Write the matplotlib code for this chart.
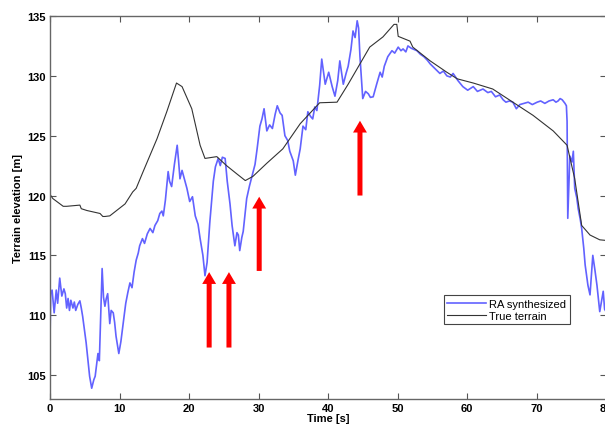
import numpy as np
import matplotlib.pyplot as plt

plt.rcParams['font.family'] = ['Liberation Sans', 'DejaVu Sans']

# true terrain (black)
true_t = [0, 0.4, 1.9, 2.4, 4.3, 4.5, 5.3, 7.2, 7.6, 7.9, 8.6, 10.8, 11.9, 12.4,
          13.4, 15.4, 16.8, 18.2, 19.0, 20.4, 21.6, 22.3, 24.0, 25.4, 26.9, 28.1,
          29.2, 31.2, 33.5, 36.0, 38.4, 38.8, 41.3, 42.9, 44.6, 46.0, 47.9, 49.5,
          49.9, 50.1, 51.8, 52.2, 54.7, 57.1, 58.6, 60.9, 63.7, 66.6, 69.5, 72.4,
          74.4, 75.5, 76.5, 77.7, 79.1, 80]
true_z = [120.1, 119.75, 119.1, 119.1, 119.2, 118.9, 118.75, 118.5, 118.25, 118.25,
          118.3, 119.3, 120.3, 120.6, 122.0, 124.75, 127.0, 129.4, 129.1, 127.25,
          124.2, 123.1, 123.25, 122.5, 121.8, 121.25, 121.6, 122.7, 123.9, 126.0,
          127.5, 127.75, 127.8, 129.3, 131.0, 132.4, 133.25, 134.3, 134.3, 133.3,
          132.9, 132.4, 131.25, 130.3, 129.75, 129.4, 128.9, 127.8, 126.7, 125.4,
          124.2, 121.4, 117.5, 116.7, 116.3, 116.25]

# RA synthesized (blue)
ra_t = [0, 0.1, 0.3, 0.6, 0.9, 1.1, 1.4, 1.7, 2.0, 2.2, 2.4, 2.6, 2.8, 3.0, 3.3,
        3.5, 3.7, 4.0, 4.3, 4.5, 4.7, 5.2, 5.7, 6.0, 6.3, 6.5, 6.9, 7.1, 7.3,
        7.5, 7.7, 7.9, 8.1, 8.3, 8.6, 8.8, 9.1, 9.3, 9.5, 9.9, 10.2, 10.4, 10.7,
        10.9, 11.2, 11.5, 11.8, 12.1, 12.4, 12.7, 12.9, 13.3, 13.6, 14.0, 14.4,
        14.8, 15.1, 15.5, 15.8, 16.1, 16.3, 16.6, 17.0, 17.2, 17.5, 17.9, 18.3,
        18.5, 18.7, 19.0, 19.4, 19.7, 20.1, 20.5, 20.9, 21.3, 21.6, 22.0, 22.3,
        22.6, 23.0, 23.5, 23.8, 24.2, 24.5, 24.8, 25.2, 25.5, 25.9, 26.2, 26.6,
        26.9, 27.1, 27.3, 27.6, 27.8, 28.3, 28.7, 29.1, 29.5, 29.8, 30.2, 30.5,
        30.8, 31.2, 31.6, 32.0, 32.4, 32.7, 33.1, 33.4, 33.8, 34.2, 34.5, 35.0,
        35.3, 35.7, 36.0, 36.4, 36.8, 37.1, 37.5, 37.8, 38.1, 38.4, 38.8, 39.1,
        39.6, 40.1, 40.6, 41.0, 41.4, 41.7, 42.2, 42.6, 42.9, 43.3, 43.6, 43.9,
        44.2, 44.4, 44.6, 45.0, 45.4, 45.8, 46.1, 46.5, 47.0, 47.5, 47.8, 48.1,
        48.6, 49.2, 49.6, 50.1, 50.5, 50.8, 51.2, 51.5, 52.0, 52.8, 53.3, 53.8,
        54.3, 54.7, 55.4, 56.1, 56.6, 57.1, 57.6, 58.0, 58.7, 59.4, 60.1, 60.9,
        61.5, 62.3, 63.0, 63.5, 64.1, 64.7, 65.2, 65.6, 66.1, 66.6, 67.1, 67.6,
        68.2, 68.8, 69.4, 70.1, 70.6, 71.2, 71.8, 72.4, 72.8, 73.1, 73.4, 73.7,
        74.1, 74.3, 74.4, 74.5, 74.8, 75.1, 75.3, 75.5, 75.8, 76.0, 76.3, 76.5,
        76.8, 77.0, 77.4, 77.7, 78.1, 78.4, 78.7, 79.1, 79.4, 79.6, 79.8, 80]
ra_z = [108.0, 111.8, 112.1, 110.2, 112.1, 111.0, 113.1, 111.6, 112.2, 111.8,
        110.6, 111.4, 110.4, 111.25, 110.6, 111.1, 110.4, 110.9, 111.2, 110.6,
        109.9, 107.7, 104.9, 103.9, 104.6, 104.9, 106.8, 106.2, 110.2, 113.9,
        111.5, 110.75, 111.4, 111.8, 109.3, 110.4, 110.2, 109.4, 108.25, 106.8,
        107.8, 108.75, 110.1, 111.0, 111.9, 112.7, 112.3, 113.6, 114.6, 115.2,
        115.8, 116.4, 116.0, 116.8, 117.25, 116.9, 117.5, 117.9, 118.5, 118.7,
        118.3, 119.6, 122.0, 121.2, 120.75, 122.6, 124.2, 122.9, 121.4, 122.1,
        121.25, 120.6, 119.5, 119.9, 118.3, 117.6, 116.4, 115.0, 113.3, 114.4,
        117.8, 121.2, 122.4, 123.1, 122.5, 123.2, 123.1, 121.2, 119.3, 117.5,
        115.8, 116.9, 116.7, 115.4, 116.5, 117.0, 119.75, 120.8, 121.7, 122.6,
        123.9, 125.8, 126.4, 127.25, 125.4, 125.9, 125.6, 126.8, 127.5, 126.9,
        126.7, 125.0, 124.6, 123.7, 122.9, 121.7, 123.0, 123.9, 125.8, 125.5,
        127.0, 126.6, 126.4, 127.4, 127.1, 129.2, 131.4, 129.3, 130.3, 129.1,
        128.3, 129.6, 131.25, 129.3, 130.2, 130.8, 132.2, 133.75, 133.2, 134.6,
        134.0, 131.6, 128.1, 128.7, 128.5, 128.2, 128.25, 129.3, 130.3, 129.9,
        130.8, 131.6, 132.1, 131.9, 132.4, 132.1, 132.25, 132.0, 132.5, 132.3,
        132.1, 131.8, 131.6, 131.3, 131.0, 130.6, 130.2, 130.4, 130.0, 129.9,
        130.2, 129.6, 129.1, 128.8, 129.1, 128.7, 128.9, 128.6, 128.7, 128.25,
        128.4, 128.0, 127.8, 127.9, 127.8, 127.25, 127.6, 127.7, 127.8, 127.6,
        127.8, 127.9, 127.7, 127.9, 128.0, 127.8, 127.9, 128.1, 128.0, 127.7,
        127.5, 126.2, 118.1, 123.3, 122.8, 123.7, 120.6, 119.8, 118.9, 118.0,
        117.25, 115.6, 114.2, 112.5, 111.7, 115.0, 113.8, 112.5, 110.3, 111.3,
        112.0, 110.5, 110.3]

# arrows: (x, tail y, tip y)
arrow_x = [22.9, 25.75, 30.1, 44.6]
arrow_tail = [107.3, 107.3, 113.7, 120.0]
arrow_tip = [113.6, 113.6, 119.9, 126.25]

fig = plt.figure(figsize=(6.05, 4.27), dpi=100)
ax = fig.add_axes([50 / 605, 27 / 427, 556 / 605, 383 / 427])

ax.plot(ra_t, ra_z, color="#4646ff", linewidth=1.2, alpha=0.85, label="RA synthesized")
ax.plot(true_t, true_z, color="#333333", linewidth=0.8, label="True terrain")

for x, y0, y1 in zip(arrow_x, arrow_tail, arrow_tip):
    ax.annotate("", xy=(x, y1), xytext=(x, y0),
                arrowprops=dict(facecolor="red", edgecolor="none", width=3.6,
                                headwidth=10, headlength=8.5, shrink=0))

ax.set_xlim(0, 80)
ax.set_ylim(103, 135)
ax.set_xticks(np.arange(0, 81, 10))
ax.set_yticks(np.arange(105, 136, 5))
ax.tick_params(direction="in", top=True, right=True, labelsize=8, length=4,
               width=0.8, color="#555555", pad=3)
for lab in ax.get_xticklabels() + ax.get_yticklabels():
    lab.set_fontweight("bold")
for s in ax.spines.values():
    s.set_color("#666666")
    s.set_linewidth(1.0)

ax.set_xlabel("Time [s]", fontsize=8, fontweight="bold", labelpad=0)
ax.set_ylabel("Terrain elevation [m]", fontsize=8, fontweight="bold", labelpad=3)

leg = ax.legend(loc="upper left", bbox_to_anchor=(0.698, 0.285), fontsize=8,
                fancybox=False, framealpha=1, edgecolor="#444444",
                handlelength=3.5, borderpad=0.3, labelspacing=0.2,
                handletextpad=0.3)
leg.get_frame().set_linewidth(0.8)

fig.savefig("out.png", dpi=100)
